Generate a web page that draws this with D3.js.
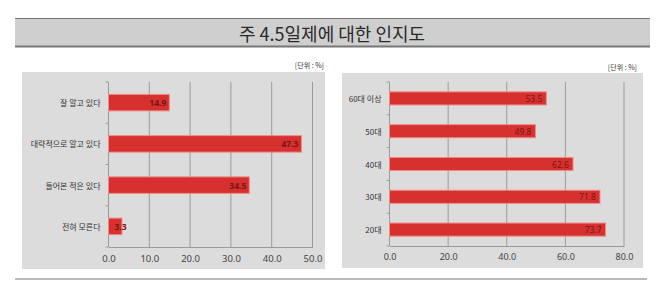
<!DOCTYPE html>
<html>
<head>
<meta charset="utf-8">
<script src="https://cdn.jsdelivr.net/npm/d3@7"></script>
<style>
  body { margin: 0; background: #fff; }
  text { font-family: "Noto Sans CJK KR", "Noto Sans", sans-serif; }
</style>
</head>
<body>
<div id="my_dataviz"></div>
<script>
// chart data
var title = "주 4.5일제에 대한 인지도";
var unitLabel = "[단위 : %]";

var leftCategories = ["잘 알고 있다", "대략적으로 알고 있다", "들어본 적은 있다", "전혀 모른다"];
var leftValues = [14.9, 47.3, 34.5, 3.3];
var leftTicks = [0, 10, 20, 30, 40, 50];

var rightCategories = ["60대 이상", "50대", "40대", "30대", "20대"];
var rightValues = [53.5, 49.8, 62.6, 71.8, 73.7];
var rightTicks = [0, 20, 40, 60, 80];

var W = 660, H = 297;

var svg = d3.select("#my_dataviz")
  .append("svg")
    .attr("width", W)
    .attr("height", H);

// title band
svg.append("rect")
  .attr("x", 15).attr("y", 18)
  .attr("width", 635).attr("height", 28)
  .attr("fill", "#cfcfcf");
svg.append("line")
  .attr("x1", 15).attr("x2", 650).attr("y1", 18.5).attr("y2", 18.5)
  .attr("stroke", "#777").attr("stroke-width", 1);
svg.append("line")
  .attr("x1", 15).attr("x2", 650).attr("y1", 46.5).attr("y2", 46.5)
  .attr("stroke", "#777").attr("stroke-width", 2);
svg.append("text")
  .attr("x", 332).attr("y", 33)
  .attr("text-anchor", "middle")
  .attr("dominant-baseline", "central")
  .attr("font-size", 18)
  .attr("fill", "#2a2a2a")
  .text(title);

// bottom rule
svg.append("line")
  .attr("x1", 15).attr("x2", 647).attr("y1", 279).attr("y2", 279)
  .attr("stroke", "#777").attr("stroke-width", 1.2);

function drawPanel(cfg, categories, values, ticks) {
  var g = svg.append("g");

  // unit label
  g.append("text")
    .attr("x", cfg.unitX).attr("y", cfg.unitY)
    .attr("text-anchor", "end")
    .attr("dominant-baseline", "central")
    .attr("font-size", 7)
    .attr("fill", "#333")
    .text(unitLabel);

  // background
  g.append("rect")
    .attr("x", cfg.bgX0).attr("y", cfg.bgY0)
    .attr("width", cfg.bgX1 - cfg.bgX0).attr("height", cfg.bgY1 - cfg.bgY0)
    .attr("fill", "#dcdcdc");

  var x = d3.scaleLinear()
    .domain([ticks[0], ticks[ticks.length - 1]])
    .range([cfg.x0, cfg.x1]);

  var y = d3.scaleBand()
    .domain(categories)
    .range([cfg.y0, cfg.y1])
    .paddingInner(cfg.pad).paddingOuter(cfg.pad / 2);

  // gridlines
  g.append("g")
    .selectAll("line")
    .data(ticks.slice(1))
    .enter()
    .append("line")
      .attr("x1", function(d) { return x(d); })
      .attr("x2", function(d) { return x(d); })
      .attr("y1", cfg.y0).attr("y2", cfg.y1)
      .attr("stroke", "#9a9a9a").attr("stroke-width", 1);

  // x axis
  var xAxis = g.append("g")
    .attr("transform", "translate(0," + cfg.y1 + ")")
    .call(d3.axisBottom(x).tickValues(ticks).tickSize(0).tickPadding(cfg.tickPad)
      .tickFormat(d3.format(".1f")));
  xAxis.select(".domain").attr("stroke", "#9a9a9a");
  xAxis.selectAll("text")
    .attr("font-size", cfg.tickSize)
    .attr("fill", "#444")
    .style("font-family", "'Noto Sans', sans-serif");

  // y axis line and band ticks
  g.append("line")
    .attr("x1", cfg.x0).attr("x2", cfg.x0).attr("y1", cfg.y0).attr("y2", cfg.y1)
    .attr("stroke", "#9a9a9a");
  var step = (cfg.y1 - cfg.y0) / categories.length;
  g.append("g")
    .selectAll("line")
    .data(d3.range(categories.length + 1))
    .enter()
    .append("line")
      .attr("x1", cfg.x0 - 3).attr("x2", cfg.x0)
      .attr("y1", function(i) { return cfg.y0 + i * step; })
      .attr("y2", function(i) { return cfg.y0 + i * step; })
      .attr("stroke", "#9a9a9a");

  // category labels
  g.append("g")
    .selectAll("text")
    .data(categories)
    .enter()
    .append("text")
      .attr("x", cfg.x0 - cfg.labelGap)
      .attr("y", function(d) { return y(d) + y.bandwidth() / 2; })
      .attr("text-anchor", "end")
      .attr("dominant-baseline", "central")
      .attr("font-size", 8)
      .attr("fill", "#333")
      .text(function(d) { return d; });

  // bars
  g.append("g")
    .selectAll("rect")
    .data(values)
    .enter()
    .append("rect")
      .attr("x", x(0))
      .attr("y", function(d, i) { return y(categories[i]); })
      .attr("width", function(d) { return x(d) - x(0); })
      .attr("height", y.bandwidth())
      .attr("fill", "#d6312f")
      .attr("stroke", "#f08a86")
      .attr("stroke-width", 1);

  // value labels (small bars: keep the label just past the axis)
  g.append("g")
    .selectAll("text")
    .data(values)
    .enter()
    .append("text")
      .attr("x", function(d) { return Math.max(x(d) - cfg.valGap, x(0) + 18); })
      .attr("y", function(d, i) { return y(categories[i]) + y.bandwidth() / 2; })
      .attr("text-anchor", "end")
      .attr("dominant-baseline", "central")
      .attr("font-size", 8.5)
      .attr("font-weight", cfg.valWeight)
      .attr("fill", "#7a1414")
      .style("font-family", "'Noto Sans', sans-serif")
      .text(function(d) { return d3.format(".1f")(d); });
}

drawPanel({
  bgX0: 22, bgX1: 325, bgY0: 72, bgY1: 269,
  x0: 108.5, x1: 312.5, y0: 82, y1: 247,
  pad: 0.6, tickPad: 8, tickSize: 9.5, labelGap: 8, valGap: 3, valWeight: "bold",
  unitX: 324, unitY: 65
}, leftCategories, leftValues, leftTicks);

drawPanel({
  bgX0: 342, bgX1: 643, bgY0: 73, bgY1: 268,
  x0: 389.5, x1: 624, y0: 82, y1: 246,
  pad: 0.6, tickPad: 7.5, tickSize: 9, labelGap: 8, valGap: 4, valWeight: "normal",
  unitX: 637, unitY: 67
}, rightCategories, rightValues, rightTicks);
</script>
</body>
</html>
